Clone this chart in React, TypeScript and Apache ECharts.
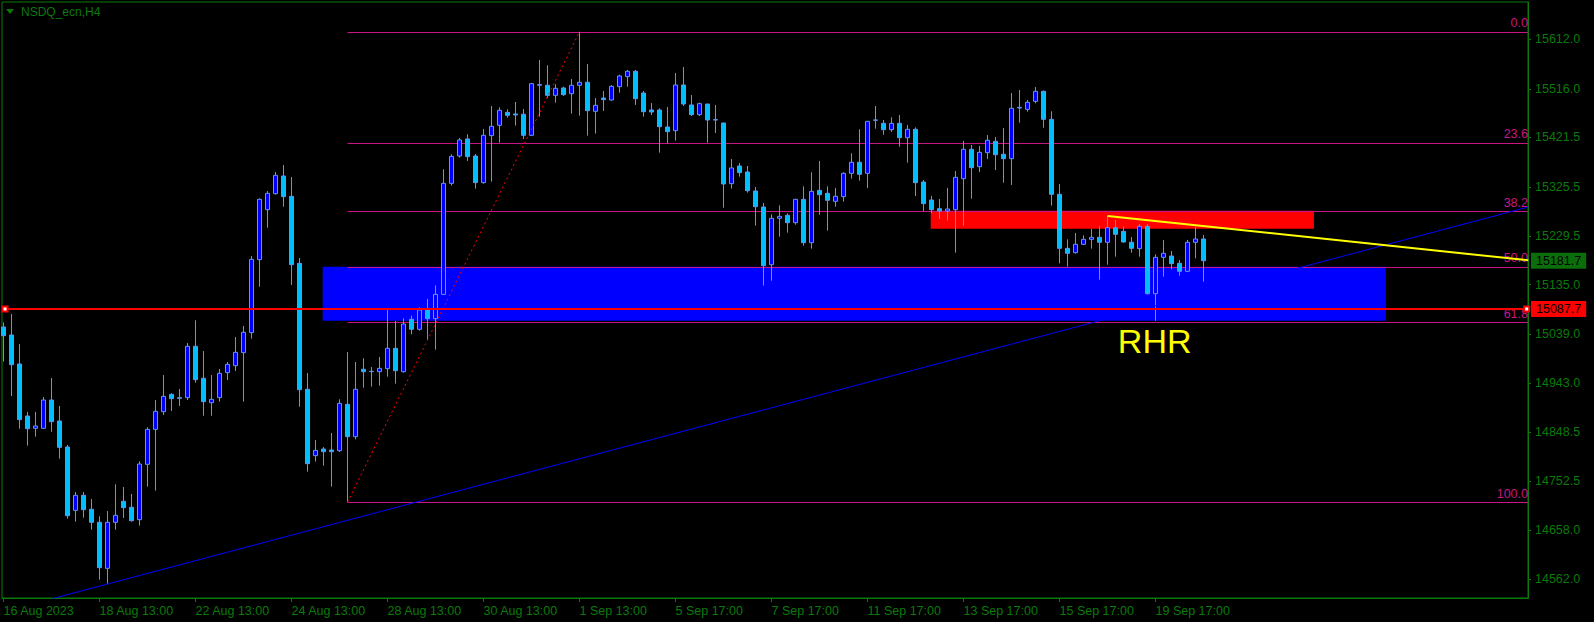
import React, { useEffect, useRef } from 'react';
import * as echarts from 'echarts';

// ---- candle data (NSDQ_ecn, H4), one entry per bar ----
const OPEN = [
  15052.8, 15037.2, 14980.8, 14879.7, 14855.7, 14855.7, 14910.8, 14870.0, 14819.4, 14696.2,
  14725.4, 14698.2, 14672.9, 14583.4, 14672.9, 14713.7, 14702.1, 14678.1, 14785.7, 14853.7,
  14888.1, 14921.8, 14915.4, 14915.4, 15015.2, 14953.0, 14905.6, 14915.4, 14964.0, 14977.6,
  15002.9, 15041.8, 15183.8, 15281.0, 15312.1, 15346.5, 15306.9, 15176.6, 14931.6, 14802.6,
  14815.5, 14813.6, 14812.3, 14902.4, 14839.5, 14970.5, 14966.6, 14965.9, 14971.8, 15011.3,
  14965.9, 15067.7, 15048.3, 15085.9, 15069.0, 15116.3, 15332.2, 15385.4, 15418.5, 15385.4,
  15333.6, 15425.0, 15445.1, 15470.3, 15467.1, 15466.5, 15425.6, 15522.9, 15522.9, 15503.4,
  15517.7, 15506.6, 15522.9, 15528.7, 15472.3, 15498.2, 15494.3, 15520.2, 15539.7, 15550.1,
  15507.9, 15474.9, 15474.9, 15441.8, 15434.7, 15523.5, 15484.6, 15465.8, 15486.5, 15456.0,
  15449.6, 15331.6, 15365.9, 15354.3, 15317.3, 15286.2, 15174.0, 15264.2, 15270.0, 15255.7,
  15301.1, 15216.8, 15318.6, 15312.8, 15297.2, 15306.3, 15351.7, 15373.1, 15351.7, 15455.4,
  15448.9, 15436.6, 15448.9, 15421.0, 15437.3, 15334.8, 15299.8, 15282.9, 15278.4, 15281.0,
  15341.3, 15398.4, 15364.6, 15391.9, 15413.9, 15388.6, 15380.2, 15480.0, 15476.1, 15491.7,
  15511.2, 15456.7, 15310.8, 15205.8, 15197.4, 15213.6, 15223.3, 15227.2, 15217.5, 15246.0,
  15238.8, 15217.5, 15205.2, 15248.6, 15117.6, 15188.3, 15190.9, 15176.6, 15161.1, 15217.5,
  15224.0,
];
const CLOSE = [
  15035.9, 14979.5, 14872.6, 14855.0, 14860.2, 14910.8, 14868.7, 14818.7, 14685.8, 14725.4,
  14697.5, 14672.9, 14584.7, 14672.9, 14686.5, 14701.4, 14676.1, 14786.3, 14853.7, 14888.8,
  14917.9, 14913.4, 14914.1, 15015.2, 14950.4, 14907.6, 14912.1, 14962.7, 14980.2, 15003.5,
  15042.4, 15184.4, 15301.1, 15312.8, 15347.8, 15306.3, 15174.0, 14930.9, 14787.0, 14812.9,
  14810.3, 14810.3, 14904.3, 14839.5, 14931.6, 14965.9, 14966.0, 14972.4, 15011.3, 14967.9,
  15058.6, 15048.3, 15085.9, 15069.0, 15116.3, 15332.2, 15384.7, 15416.5, 15384.1, 15333.6,
  15425.6, 15443.1, 15474.2, 15464.5, 15465.2, 15425.6, 15526.1, 15524.2, 15503.4, 15517.0,
  15504.7, 15522.9, 15528.7, 15473.6, 15484.0, 15495.0, 15520.9, 15541.0, 15550.1, 15496.9,
  15471.6, 15470.9, 15442.4, 15432.7, 15523.5, 15486.5, 15465.8, 15487.2, 15455.4, 15455.4,
  15330.9, 15362.1, 15353.0, 15317.9, 15286.8, 15172.1, 15264.2, 15268.0, 15255.7, 15301.1,
  15216.8, 15316.6, 15310.2, 15299.2, 15307.0, 15351.7, 15373.1, 15349.7, 15452.8, 15455.0,
  15436.6, 15448.9, 15421.0, 15437.3, 15333.5, 15292.7, 15281.0, 15278.4, 15282.3, 15343.9,
  15398.4, 15362.7, 15392.5, 15415.9, 15387.9, 15380.2, 15478.1, 15478.7, 15489.8, 15511.2,
  15456.7, 15310.8, 15205.8, 15196.1, 15213.6, 15223.3, 15227.2, 15217.5, 15246.0, 15233.0,
  15218.1, 15205.8, 15248.6, 15117.6, 15188.3, 15196.1, 15176.0, 15161.1, 15217.5, 15224.0,
  15181.7,
];
const LOW = [
  14985.4, 14918.6, 14855.0, 14822.0, 14839.5, 14855.0, 14849.2, 14796.7, 14680.0, 14674.2,
  14681.9, 14658.6, 14561.4, 14552.9, 14658.6, 14681.3, 14674.2, 14666.4, 14742.3, 14734.5,
  14881.6, 14889.4, 14899.2, 14910.8, 14944.5, 14880.3, 14880.3, 14907.6, 14949.7, 14967.2,
  14907.6, 15030.1, 15131.2, 15246.0, 15310.2, 15286.8, 15134.5, 14897.8, 14771.4, 14790.9,
  14783.1, 14742.3, 14809.7, 14712.0, 14834.3, 14934.8, 14936.8, 14938.7, 14956.2, 14942.6,
  14964.0, 15038.5, 15045.7, 15027.5, 15008.7, 15115.0, 15327.7, 15382.2, 15375.7, 15321.9,
  15331.6, 15335.5, 15411.4, 15460.0, 15444.4, 15418.5, 15424.0, 15461.9, 15497.6, 15489.1,
  15502.1, 15467.8, 15463.9, 15425.0, 15428.9, 15473.0, 15493.0, 15508.6, 15520.2, 15484.6,
  15461.9, 15465.1, 15391.9, 15410.0, 15415.2, 15482.6, 15463.2, 15463.2, 15411.3, 15430.1,
  15284.9, 15321.9, 15345.2, 15314.1, 15249.9, 15133.2, 15142.9, 15228.5, 15236.3, 15251.8,
  15211.0, 15205.2, 15271.3, 15240.2, 15286.8, 15296.6, 15341.3, 15337.4, 15323.2, 15438.5,
  15426.9, 15432.1, 15403.5, 15372.4, 15307.6, 15278.4, 15273.9, 15262.9, 15259.6, 15197.4,
  15249.9, 15302.4, 15354.3, 15379.6, 15358.2, 15333.5, 15329.0, 15450.2, 15471.6, 15487.8,
  15440.5, 15288.8, 15176.6, 15170.1, 15195.4, 15212.3, 15205.2, 15144.8, 15174.0, 15189.6,
  15216.8, 15197.4, 15189.6, 15116.0, 15065.0, 15150.7, 15165.0, 15152.6, 15160.0, 15186.4,
  15141.0,
];
const HIGH = [
  15061.9, 15078.1, 15019.7, 14887.5, 14887.5, 14916.6, 14953.6, 14899.1, 14823.3, 14731.9,
  14731.9, 14718.3, 14684.6, 14694.9, 14746.8, 14741.6, 14728.0, 14791.5, 14858.0, 14910.8,
  14959.4, 14923.8, 14932.2, 15021.7, 15065.8, 15006.1, 14959.4, 14971.1, 14984.7, 15033.3,
  15054.8, 15190.9, 15303.0, 15317.3, 15354.3, 15367.9, 15344.5, 15187.0, 14963.3, 14833.0,
  14819.4, 14846.6, 14912.1, 15004.2, 14984.7, 14991.9, 14975.0, 14994.5, 15085.9, 15064.5,
  15069.7, 15074.9, 15091.1, 15107.3, 15133.8, 15359.5, 15388.6, 15420.4, 15427.6, 15389.3,
  15437.9, 15482.7, 15480.1, 15476.2, 15490.4, 15476.8, 15527.5, 15572.1, 15561.8, 15524.8,
  15520.3, 15535.2, 15627.0, 15564.3, 15498.2, 15511.8, 15523.5, 15543.6, 15552.6, 15552.6,
  15511.8, 15488.5, 15478.1, 15480.7, 15546.8, 15558.5, 15504.0, 15489.1, 15486.5, 15484.6,
  15449.6, 15379.6, 15371.8, 15365.9, 15325.1, 15294.0, 15271.9, 15289.4, 15273.9, 15302.0,
  15326.4, 15353.6, 15375.7, 15326.4, 15323.2, 15353.6, 15390.6, 15437.3, 15453.5, 15482.6,
  15455.4, 15460.6, 15465.1, 15445.7, 15441.1, 15338.7, 15307.6, 15301.8, 15323.2, 15356.2,
  15414.6, 15406.8, 15404.8, 15426.2, 15422.3, 15439.8, 15507.9, 15513.8, 15494.3, 15519.6,
  15512.5, 15472.3, 15330.9, 15223.3, 15235.6, 15231.1, 15243.4, 15249.2, 15268.7, 15260.9,
  15248.6, 15227.8, 15253.1, 15253.1, 15194.1, 15222.0, 15200.6, 15183.1, 15222.0, 15247.3,
  15231.7,
];

// ---- axes ----
const X_TICKS = [0, 12, 24, 36, 48, 60, 72, 84, 96, 108, 120, 132, 144];
const X_LABELS = [
  '16 Aug 2023', '18 Aug 13:00', '22 Aug 13:00', '24 Aug 13:00', '28 Aug 13:00',
  '30 Aug 13:00', '1 Sep 13:00', '5 Sep 17:00', '7 Sep 17:00', '11 Sep 17:00',
  '13 Sep 17:00', '15 Sep 17:00', '19 Sep 17:00',
];
const Y_TICKS = [
  15612.0, 15516.0, 15421.5, 15325.5, 15229.5, 15135.0,
  15039.0, 14943.0, 14848.5, 14752.5, 14658.0, 14562.0,
];
const X_MIN = -0.1875;
const X_MAX = 190.5625;
const Y_MIN = 14525.7;
const Y_MAX = 15684.9;

// ---- drawing objects ----
const FIB_LOW_BAR = 43;
const FIB_LOW_PRICE = 14712.0;
const FIB_HIGH_BAR = 72;
const FIB_HIGH_PRICE = 15627.0;
const FIB_RATIOS = [0, 23.6, 38.2, 50, 61.8, 100];
const BID_PRICE = 15181.7;
const HLINE_PRICE = 15087.7;
const BLUE_ZONE_BARS = [39.9, 172.8];
const BLUE_ZONE_PRICES = [15170.0, 15065.0];
const RED_ZONE_BARS = [115.9, 163.8];
const RED_ZONE_PRICES = [15279.0, 15244.0];
const BLUE_TREND = [[6, 14524.0], [190.6, 15286.2]];
const YELLOW_TREND = [[138, 15268.7], [190.6, 15182.5]];
const HLINE_ENDS = [0.19, 190.4];
const RHR_POINT = [143.9, 15026.5];

const GREEN = '#0b7a0b';
const FIB = '#c71585';
const FONT = '"Liberation Sans", Arial, sans-serif';

export default function App() {
  const ref = useRef<HTMLDivElement>(null);

  useEffect(() => {
    document.body.style.margin = '0';
    document.body.style.background = '#000';
    const chart = echarts.init(ref.current!, null, { renderer: 'svg' });

    const candles = OPEN.map((o, i) => [i, o, CLOSE[i], LOW[i], HIGH[i]]);
    const fibRange = FIB_HIGH_PRICE - FIB_LOW_PRICE;
    const fibLines = FIB_RATIOS.map((r) => {
      const lvl = FIB_HIGH_PRICE - (r / 100) * fibRange;
      return [
        { coord: [FIB_LOW_BAR, lvl], label: { formatter: r.toFixed(1) } },
        { coord: [X_MAX, lvl] },
      ];
    });

    chart.setOption({
      animation: false,
      backgroundColor: '#000',
      title: {
        text: 'NSDQ_ecn,H4',
        left: 21,
        top: 6,
        padding: 0,
        textStyle: { color: GREEN, fontSize: 12, fontWeight: 'normal', fontFamily: FONT },
      },
      graphic: [
        {
          type: 'polygon',
          shape: { points: [[6, 9], [14, 9], [10, 14]] },
          style: { fill: GREEN },
        },
      ],
      grid: {
        left: 2, right: 66, top: 2, bottom: 24,
        show: true, borderColor: GREEN, borderWidth: 1, backgroundColor: '#000',
      },
      xAxis: {
        type: 'value',
        min: X_MIN,
        max: X_MAX,
        axisLine: { show: true, lineStyle: { color: GREEN } },
        axisTick: { show: true, inside: false, customValues: X_TICKS, length: 4, lineStyle: { color: GREEN } },
        axisLabel: {
          customValues: X_TICKS,
          formatter: (v: number) => {
            const i = X_TICKS.indexOf(Math.round(v));
            return i >= 0 ? X_LABELS[i] : '';
          },
          align: 'left',
          color: GREEN,
          fontFamily: FONT,
          fontSize: 12.5,
          margin: 6,
        },
        splitLine: { show: false },
      },
      yAxis: {
        type: 'value',
        position: 'right',
        min: Y_MIN,
        max: Y_MAX,
        axisLine: { show: true, onZero: false, lineStyle: { color: GREEN } },
        axisTick: { show: true, inside: false, customValues: Y_TICKS, length: 3, lineStyle: { color: GREEN } },
        axisLabel: {
          customValues: Y_TICKS,
          formatter: (v: number) => v.toFixed(1),
          color: GREEN,
          fontFamily: FONT,
          fontSize: 12.5,
          margin: 7,
        },
        splitLine: { show: false },
      },
      series: [
        {
          type: 'line',
          name: 'zones',
          data: [],
          z: 1,
          markArea: {
            silent: true,
            z: 1,
            data: [
              [
                { coord: [BLUE_ZONE_BARS[0], BLUE_ZONE_PRICES[0]], itemStyle: { color: '#0000ff' } },
                { coord: [BLUE_ZONE_BARS[1], BLUE_ZONE_PRICES[1]] },
              ],
              [
                { coord: [RED_ZONE_BARS[0], RED_ZONE_PRICES[0]], itemStyle: { color: '#ff0000' } },
                { coord: [RED_ZONE_BARS[1], RED_ZONE_PRICES[1]] },
              ],
            ],
          },
        },
        {
          type: 'line',
          name: 'fib',
          data: [[FIB_LOW_BAR, FIB_LOW_PRICE], [FIB_HIGH_BAR, FIB_HIGH_PRICE]],
          showSymbol: false,
          symbol: 'none',
          z: 4,
          lineStyle: { color: '#ff0000', width: 1, type: [2, 3] },
          markLine: {
            silent: true,
            symbol: ['none', 'none'],
            z: 1,
            lineStyle: { color: FIB, width: 1, type: 'solid' },
            label: {
              show: true,
              position: 'insideEndTop',
              color: FIB,
              fontFamily: FONT,
              fontSize: 12.5,
              distance: [0, 2],
            },
            data: fibLines,
          },
        },
        {
          type: 'candlestick',
          name: 'NSDQ',
          data: candles,
          encode: { x: 0, y: [1, 2, 3, 4] },
          barWidth: 4,
          z: 3,
          itemStyle: {
            color: '#0000ff',
            color0: '#00bfff',
            borderColor: '#6495ed',
            borderColor0: '#6495ed',
            borderColorDoji: '#6495ed',
            borderWidth: 1,
          },
        },
        {
          type: 'line',
          name: 'trend',
          data: BLUE_TREND,
          showSymbol: false,
          symbol: 'none',
          z: 4,
          lineStyle: { color: '#0000ff', width: 1 },
        },
        {
          type: 'line',
          name: 'yellow',
          data: YELLOW_TREND,
          showSymbol: false,
          symbol: 'none',
          z: 4,
          lineStyle: { color: '#ffff00', width: 2 },
        },
        {
          type: 'line',
          name: 'levels',
          data: [],
          z: 5,
          clip: false,
          markLine: {
            silent: true,
            symbol: ['none', 'none'],
            z: 5,
            data: [
              {
                yAxis: HLINE_PRICE,
                lineStyle: { color: '#ff0000', width: 2, type: 'solid' },
                label: {
                  show: true,
                  position: 'end',
                  formatter: HLINE_PRICE.toFixed(1),
                  backgroundColor: '#ff0000',
                  color: '#000',
                  padding: [2, 5, 1, 5],
                  distance: 3,
                  fontFamily: FONT,
                  fontSize: 12.5,
                },
              },
              {
                yAxis: BID_PRICE,
                lineStyle: { color: 'rgba(0,0,0,0)', width: 1, type: 'solid' },
                label: {
                  show: true,
                  position: 'end',
                  formatter: BID_PRICE.toFixed(1),
                  backgroundColor: '#0b6e0b',
                  color: '#000',
                  padding: [2, 5, 1, 5],
                  distance: 3,
                  fontFamily: FONT,
                  fontSize: 12.5,
                },
              },
            ],
          },
        },
        {
          type: 'scatter',
          name: 'ends',
          data: HLINE_ENDS.map((x) => [x, HLINE_PRICE]),
          symbol: 'rect',
          symbolSize: 5,
          z: 6,
          clip: false,
          itemStyle: { color: '#ffffff', borderColor: '#ff0000', borderWidth: 2, opacity: 1 },
        },
        {
          type: 'scatter',
          name: 'rhr',
          data: [RHR_POINT],
          symbolSize: 2,
          z: 6,
          itemStyle: { color: 'rgba(0,0,0,0)', opacity: 1 },
          label: {
            show: true,
            position: 'inside',
            formatter: 'RHR',
            color: '#ffff00',
            opacity: 1,
            textBorderWidth: 0,
            textBorderColor: 'transparent',
            fontFamily: FONT,
            fontSize: 34,
          },
        },
      ],
    });

    return () => chart.dispose();
  }, []);

  return (
    <div
      ref={ref}
      style={{ position: 'fixed', left: 0, top: 0, width: 1594, height: 622, background: '#000' }}
    />
  );
}
